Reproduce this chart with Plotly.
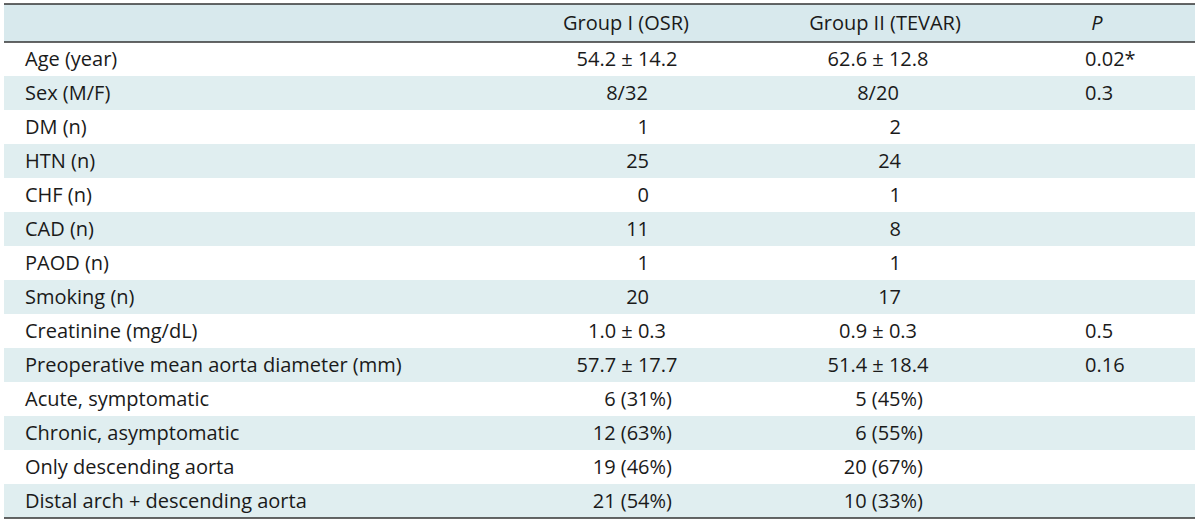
import plotly.graph_objects as go

# ---- data ----
header = ["", "Group I (OSR)", "Group II (TEVAR)", "<i>P</i>"]
labels = ["Age (year)", "Sex (M/F)", "DM (n)", "HTN (n)", "CHF (n)", "CAD (n)",
          "PAOD (n)", "Smoking (n)", "Creatinine (mg/dL)",
          "Preoperative mean aorta diameter (mm)", "Acute, symptomatic",
          "Chronic, asymptomatic", "Only descending aorta",
          "Distal arch + descending aorta"]
group1 = ["54.2 ± 14.2", "8/32", "1", "25", "0", "11", "1", "20", "1.0 ± 0.3",
          "57.7 ± 17.7", "6 (31%)", "12 (63%)", "19 (46%)", "21 (54%)"]
group2 = ["62.6 ± 12.8", "8/20", "2", "24", "1", "8", "1", "17", "0.9 ± 0.3",
          "51.4 ± 18.4", "5 (45%)", "6 (55%)", "20 (67%)", "10 (33%)"]
pvals = ["0.02*", "0.3", "", "", "", "", "", "", "0.5", "0.16", "", "", "", ""]

# ---- layout constants (pixels) ----
W, H = 1200, 524
X0, X1 = 4, 1195
TOP, HEAD_BOT, ROW_H = 4, 42, 34
TEXT_DY = 2
FONT = "Open Sans"
FS = 20
TXT = "#1a1a1a"
HEAD_FILL = "#d8e9ed"
ROW_FILL = "#e0eef0"

n = len(labels)
row_c = [HEAD_BOT + ROW_H * i + ROW_H / 2 + TEXT_DY for i in range(n)]
head_c = (TOP + HEAD_BOT) / 2 + TEXT_DY

# column anchors: (centre, integer right edge, percentage right edge)
cols = {
    "g1": (627, 649, 672),
    "g2": (878, 901, 923),
}


def place(values, key):
    c, ir, pr = cols[key]
    xs, pos = [], []
    for v in values:
        if "±" in v or "/" in v:
            xs.append(c); pos.append("middle center")
        elif "(" in v:
            xs.append(pr); pos.append("middle left")
        else:
            xs.append(ir); pos.append("middle left")
    return xs, pos


fig = go.Figure()

font = dict(family=FONT, size=FS, color=TXT)

# labels
fig.add_trace(go.Scatter(x=[25] * n, y=row_c, text=labels, mode="text",
                         textposition="middle right", textfont=font,
                         hoverinfo="skip", cliponaxis=False))
for key, vals in (("g1", group1), ("g2", group2)):
    xs, pos = place(vals, key)
    fig.add_trace(go.Scatter(x=xs, y=row_c, text=vals, mode="text",
                             textposition=pos, textfont=font,
                             hoverinfo="skip", cliponaxis=False))
fig.add_trace(go.Scatter(x=[1085] * n, y=row_c, text=pvals, mode="text",
                         textposition="middle right", textfont=font,
                         hoverinfo="skip", cliponaxis=False))
# header
fig.add_trace(go.Scatter(x=[626, 885, 1097], y=[head_c] * 3, text=header[1:],
                         mode="text", textposition="middle center",
                         textfont=font, hoverinfo="skip", cliponaxis=False))

shapes = [dict(type="rect", x0=X0, x1=X1, y0=TOP, y1=HEAD_BOT,
               fillcolor=HEAD_FILL, line_width=0, layer="below")]
for i in range(n):
    if i % 2 == 1:
        y0 = HEAD_BOT + ROW_H * i
        shapes.append(dict(type="rect", x0=X0, x1=X1, y0=y0, y1=y0 + ROW_H,
                           fillcolor=ROW_FILL, line_width=0, layer="below"))
for yl in (TOP, HEAD_BOT, HEAD_BOT + ROW_H * n):
    shapes.append(dict(type="line", x0=X0, x1=X1, y0=yl, y1=yl,
                       line=dict(color="#333333", width=1.5)))

fig.update_layout(
    width=W, height=H, margin=dict(l=0, r=0, t=0, b=0),
    paper_bgcolor="white", plot_bgcolor="white", showlegend=False,
    xaxis=dict(range=[0, W], visible=False, fixedrange=True),
    yaxis=dict(range=[H, 0], visible=False, fixedrange=True),
    shapes=shapes,
)

fig.write_html("out.html", config={"displayModeBar": False},
               post_script="document.body.style.margin='0';"
                           "document.body.style.overflow='hidden';")
